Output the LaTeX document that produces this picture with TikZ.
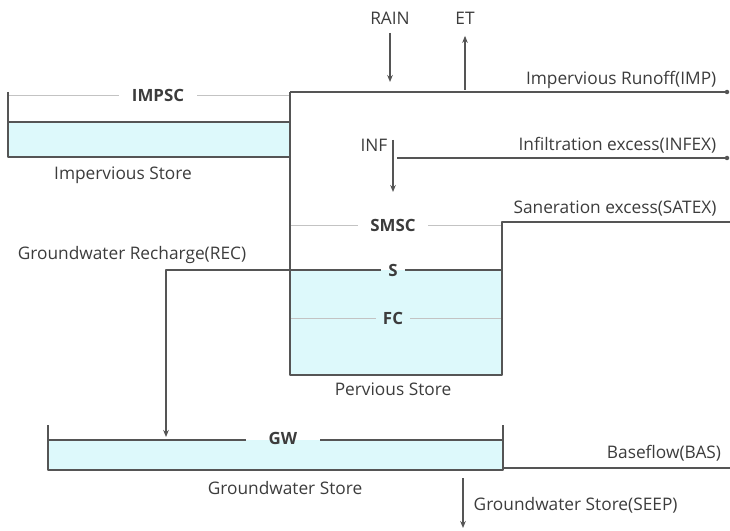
\documentclass[tikz,border=0pt]{standalone}
\usepackage{fontspec}
\setmainfont{Open Sans}
\usepackage{tikz}
\usetikzlibrary{arrows.meta,calc}
\usepackage{xcolor}
\definecolor{wallgray}{RGB}{85,85,85}
\definecolor{levelgray}{RGB}{195,195,195}
\definecolor{waterfill}{RGB}{221,249,251}
\definecolor{labelgray}{RGB}{60,60,60}
\tikzset{
  wall/.style={draw=wallgray,line width=0.9pt},
  level/.style={draw=levelgray,line width=0.6pt},
  flow/.style={draw=wallgray,line width=0.8pt,-{Stealth[length=5pt,width=4pt]}},
  txt/.style={font=\fontsize{12.3}{14}\selectfont,text=labelgray,inner sep=1pt},
  tag/.style={font=\fontsize{12}{14}\selectfont\bfseries,text=labelgray,fill=white,inner xsep=9pt,inner ysep=2pt}
}

\begin{document}
\begin{tikzpicture}[x=0.025cm,y=-0.025cm,line join=round]
\useasboundingbox (0,0) rectangle (730,531);
% impervious store
\fill[waterfill] (8,122) rectangle (290,157);
\draw[level] (8,95) -- (290,95);
\draw[wall] (8,92) -- (8,157) -- (290,157);
\draw[wall] (8,122) -- (290,122);
\node[tag] (impsc) at (158,95) {IMPSC};
\node[txt] (impstore) at (123,175) {Impervious Store};
% pervious store
\fill[waterfill] (290,270) rectangle (502,375);
\draw[level] (290,225) -- (502,225);
\draw[level] (290,318) -- (502,318);
\node[tag] (smsc) at (393,225) {SMSC};
\node[tag,fill=none,inner xsep=5pt] (s) at (393,270) {S};
\node[tag,fill=waterfill,inner xsep=5pt] (fc) at (393,318) {FC};
\draw[wall] (290,270) -- (s.west |- 0,270) (s.east |- 0,270) -- (502,270);
\draw[wall] (290,92) -- (290,375) -- (502,375) -- (502,222) -- (730,222);
\node[txt] (pervstore) at (393,389) {Pervious Store};
\node[txt] (satex) at (615,209) {Saneration excess(SATEX)};
% surface fluxes
\coordinate (impend) at (727,92);
\draw[wall] (290,92) -- (impend);
\fill[wallgray] (impend) circle (1.6pt);
\node[txt,anchor=east] (imp) at (718,80) {Impervious Runoff(IMP)};
\node[txt] (rain) at (390,18) {RAIN};
\node[txt] (et) at (465,18) {ET};
\draw[flow] ($(rain.south)+(0,7)$) -- (390,82);
\draw[flow] (465,90) -- ($(et.south)+(0,10)$);
\node[txt,anchor=east] (inf) at (389,145) {INF};
\draw[flow] (393,140) -- (393,192);
\coordinate (infexend) at (727,158);
\draw[wall] (397,158) -- (infexend);
\fill[wallgray] (infexend) circle (1.6pt);
\node[txt,anchor=east] (infex) at (718,145) {Infiltration excess(INFEX)};
% groundwater
\fill[waterfill] (48,440) rectangle (503,470);
\node[tag,fill=none,inner xsep=16pt] (gw) at (283,438) {GW};
\draw[wall] (48,425) -- (48,470) -- (503,470) -- (503,425);
\draw[wall] (48,440) -- (gw.west |- 0,440) (gw.east |- 0,440) -- (503,440);
\draw[wall] (503,468) -- (730,468);
\node[txt] (gwstore) at (285,488) {Groundwater Store};
\node[txt] (bas) at (664,453) {Baseflow(BAS)};
\node[txt] (rec) at (132,255) {Groundwater Recharge(REC)};
\draw[flow] (290,270) -- (166,270) -- (166,437);
\draw[flow] (463,478) -- (463,528);
\node[txt,anchor=west] (seep) at (472,505) {Groundwater Store(SEEP)};
\end{tikzpicture}
\end{document}
